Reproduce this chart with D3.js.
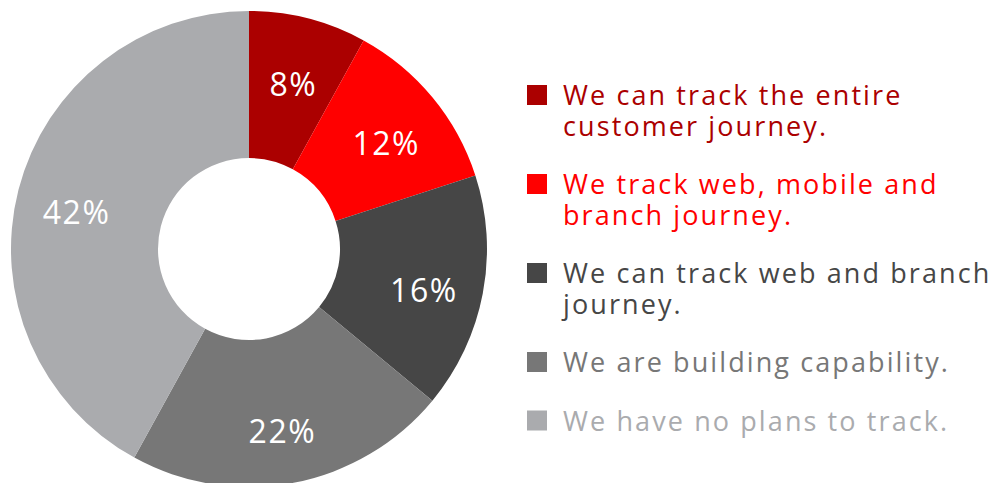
<!DOCTYPE html>
<html>
<head>
<meta charset="utf-8">
<script src="https://cdn.jsdelivr.net/npm/d3@7"></script>
<style>
  body { margin: 0; background: #fff; }
  svg { display: block; font-family: "Open Sans", sans-serif; }
</style>
</head>
<body>
<svg id="chart" width="1005" height="483"></svg>
<script>
// survey answers, clockwise from 12 o'clock
var categories = [
  ["We can track the entire", "customer journey."],
  ["We track web, mobile and", "branch journey."],
  ["We can track web and branch", "journey."],
  ["We are building capability."],
  ["We have no plans to track."]
];
var values = [8, 12, 16, 22, 42];
var colors = ["#ab0000", "#ff0000", "#464646", "#777777", "#aaabae"];

var svg = d3.select("#chart");
var cx = 249, cy = 249;

var pie = d3.pie().sort(null).value(function(d) { return d; });
var arc = d3.arc().innerRadius(91).outerRadius(238);
var labelArc = d3.arc().innerRadius(178).outerRadius(178);

var g = svg.append("g").attr("transform", "translate(" + cx + "," + cy + ")");
var slices = pie(values);

g.selectAll("path")
  .data(slices)
  .enter().append("path")
    .attr("d", arc)
    .attr("fill", function(d, i) { return colors[i]; });

g.selectAll("text")
  .data(slices)
  .enter().append("text")
    .attr("transform", function(d) { return "translate(" + labelArc.centroid(d) + ")"; })
    .attr("text-anchor", "middle")
    .attr("dy", "0.6em")
    .attr("fill", "#fff")
    .attr("font-size", 32)
    .attr("letter-spacing", 1.5)
    .text(function(d) { return d.data + "%"; });

// legend, one text per line
var lineH = 30.5, gap = 58.5;
var legend = svg.append("g").attr("transform", "translate(527,105)");
var y = 0;
categories.forEach(function(lines, i) {
  var item = legend.append("g").attr("transform", "translate(0," + y + ")");
  item.append("rect")
    .attr("x", 0).attr("y", -20)
    .attr("width", 20).attr("height", 20)
    .attr("fill", colors[i]);
  lines.forEach(function(s, j) {
    item.append("text")
      .attr("x", 36)
      .attr("y", j * lineH)
      .attr("fill", colors[i])
      .attr("font-size", 27)
      .attr("letter-spacing", 2.1)
      .text(s);
  });
  y += (lines.length - 1) * lineH + gap;
});
</script>
</body>
</html>
